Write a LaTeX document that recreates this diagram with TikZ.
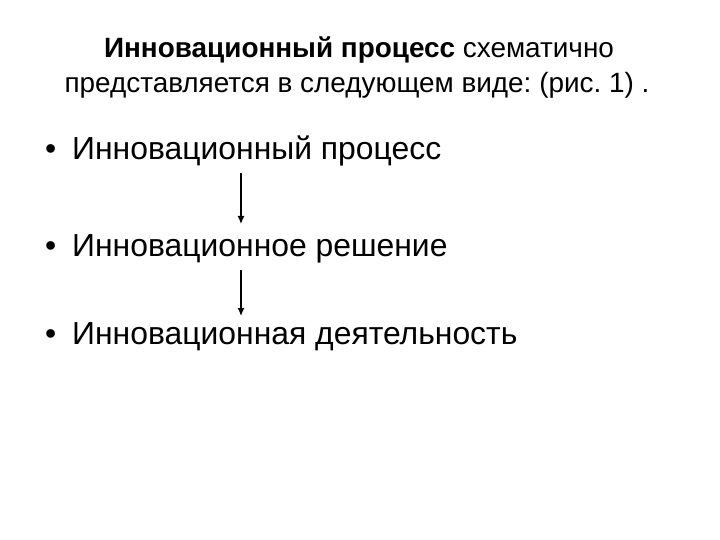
\documentclass[tikz,border=0pt]{standalone}
\usepackage{fontspec}
\setmainfont{Liberation Sans}
\usetikzlibrary{arrows.meta}
\frenchspacing
\begin{document}
\begin{tikzpicture}[x=1bp,y=-1bp,
  titletext/.style={font=\fontsize{28}{35}\selectfont, anchor=base, inner sep=0},
  item/.style={font=\fontsize{32}{38}\selectfont, anchor=base west, inner sep=0},
  flow/.style={-{Latex[length=8bp,width=7bp]}, line width=1.3bp}]
\useasboundingbox (0,0) rectangle (720,540);
\node[titletext] (title1) at (359,58) {\textbf{Инновационный процесс} схематично};
\node[titletext] (title2) at (357,93) {представляется в следующем виде: (рис.~1)~.};
\node[item] (b1) at (45,160) {\makebox[27bp][l]{•}Инновационный процесс};
\node[item] (b2) at (45,257) {\makebox[27bp][l]{•}Инновационное решение};
\node[item] (b3) at (45,344) {\makebox[27bp][l]{•}Инновационная деятельность};
\coordinate (a1s) at (241,173);
\coordinate (a1e) at (241,224);
\coordinate (a2s) at (241,270);
\coordinate (a2e) at (241,316);
\draw[flow] (a1s) -- (a1e);
\draw[flow] (a2s) -- (a2e);
\end{tikzpicture}
\end{document}
